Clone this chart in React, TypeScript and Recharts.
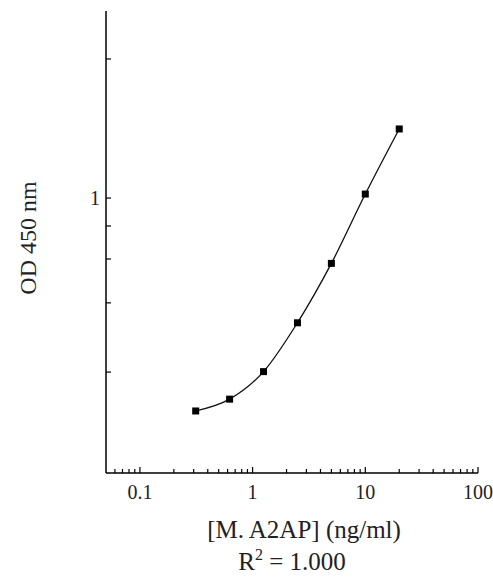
import React from 'react';
import { LineChart, Line, XAxis, YAxis } from 'recharts';

// standard curve, 2-fold dilutions
const concentration = [0.3125, 0.625, 1.25, 2.5, 5, 10, 20];
const od450 = [0.346, 0.367, 0.421, 0.537, 0.722, 1.02, 1.411];

const xMajorTicks = [0.1, 1, 10, 100];
const xMinorTicks = [
  0.06, 0.07, 0.08, 0.09,
  0.2, 0.3, 0.4, 0.5, 0.6, 0.7, 0.8, 0.9,
  2, 3, 4, 5, 6, 7, 8, 9,
  20, 30, 40, 50, 60, 70, 80, 90,
];
const yTicks = [0.42, 0.593, 0.738, 0.87, 1, 2];
const yLabeledTicks = [1];

const data = concentration.map((c, i) => ({ conc: c, od: od450[i] }));

const FONT = '"Liberation Serif", "Times New Roman", serif';
const TEXT = '#222';

const XTick = (props: any) => {
  const { x, y, payload } = props;
  const major = xMajorTicks.includes(payload.value);
  return (
    <g>
      <line x1={x} x2={x} y1={y} y2={y - (major ? 6 : 4)} stroke="#000" strokeWidth={1.2} />
      {major && (
        <text x={x} y={y + 26} textAnchor="middle" fontSize={20} fontFamily={FONT} fill={TEXT}>
          {payload.value}
        </text>
      )}
    </g>
  );
};

const YTick = (props: any) => {
  const { x, y, payload } = props;
  const labeled = yLabeledTicks.includes(payload.value);
  return (
    <g>
      <line x1={x} x2={x + 5} y1={y} y2={y} stroke="#000" strokeWidth={1.2} />
      {labeled && (
        <text x={x - 6} y={y + 7} textAnchor="end" fontSize={20} fontFamily={FONT} fill={TEXT}>
          {payload.value}
        </text>
      )}
    </g>
  );
};

const XLabel = (props: any) => {
  const { x, y, width } = props.viewBox;
  const cx = x + width / 2;
  return (
    <g fontFamily={FONT} fill={TEXT} fontSize={25}>
      <text x={cx + 12} y={y + 65} textAnchor="middle">[M. A2AP] (ng/ml)</text>
      <text x={cx} y={y + 97} textAnchor="middle">
        <tspan>R</tspan>
        <tspan dy={-10} fontSize={16}>2</tspan>
        <tspan dy={10}> = 1.000</tspan>
      </text>
    </g>
  );
};

const YLabel = (props: any) => {
  const { y, height } = props.viewBox;
  const cy = y + height / 2 - 4;
  return (
    <text
      x={28}
      y={cy}
      transform={`rotate(-90, 28, ${cy})`}
      textAnchor="middle"
      dominantBaseline="central"
      fontSize={24}
      fontFamily={FONT}
      fill={TEXT}
    >
      OD 450 nm
    </text>
  );
};

const Square = (props: any) => {
  const { cx, cy, index } = props;
  return <rect key={index} x={cx - 3.5} y={cy - 3.5} width={7} height={7} fill="#000" />;
};

export default function App() {
  return (
    <div style={{ position: 'absolute', left: 0, top: 0, background: '#fff' }}>
      <LineChart width={493} height={577} data={data} margin={{ top: 11, right: 15, bottom: 0, left: 0 }}>
        <XAxis
          dataKey="conc"
          type="number"
          scale="log"
          domain={[0.05, 100]}
          allowDataOverflow
          ticks={[...xMinorTicks, ...xMajorTicks].sort((a, b) => a - b)}
          interval={0}
          tickSize={0}
          tickMargin={0}
          tickLine={false}
          tick={<XTick />}
          height={104}
          axisLine={{ stroke: '#000', strokeWidth: 1.5 }}
          label={<XLabel />}
        />
        <YAxis
          dataKey="od"
          type="number"
          scale="log"
          domain={[0.254, 2.54]}
          allowDataOverflow
          ticks={yTicks}
          interval={0}
          tickSize={0}
          tickMargin={0}
          tickLine={false}
          tick={<YTick />}
          width={106}
          axisLine={{ stroke: '#000', strokeWidth: 1.5 }}
          label={<YLabel />}
        />
        <Line
          type="monotone"
          dataKey="od"
          stroke="#111"
          strokeWidth={1.3}
          dot={<Square />}
          activeDot={false}
          isAnimationActive={false}
        />
      </LineChart>
    </div>
  );
}
